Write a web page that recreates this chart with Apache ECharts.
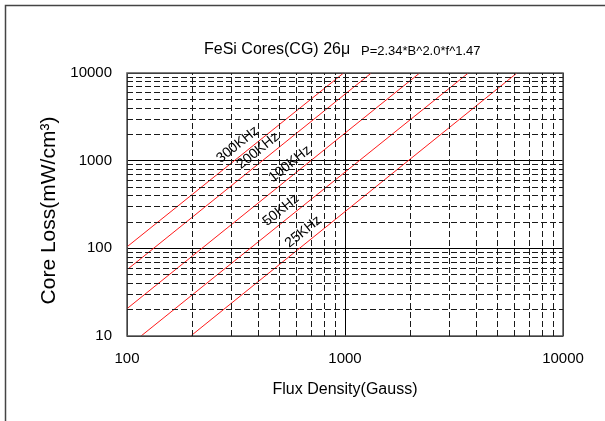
<!DOCTYPE html>
<html>
<head>
<meta charset="utf-8">
<script src="https://cdn.jsdelivr.net/npm/echarts@6/dist/echarts.min.js"></script>
<style>
  html, body { margin: 0; padding: 0; background: #fff; }
  #chart { width: 605px; height: 421px; }
</style>
</head>
<body>
<div id="chart"></div>
<script>
// Core-loss curves: each frequency is a straight line on log-log axes,
// given by its two end points (Flux Density in Gauss, Core Loss in mW/cm³).
const freqNames = ['300KHz', '200KHz', '100KHz', '50KHz', '25KHz'];
const bStart = [100, 100, 100, 116, 196];
const pStart = [104, 57, 20.5, 10, 10];
const bEnd = [985, 1320, 2200, 3680, 6150];
const pEnd = [10000, 10000, 10000, 10000, 10000];
// Flux density where each curve's label sits
const labelB = [345, 428, 600, 545, 690];

// Tick labels and dashed minor grid values
const xTicks = [100, 1000, 10000];
const yTicks = [10, 100, 1000, 10000];
const xMinor = [200, 300, 400, 500, 600, 700, 800, 900, 2000, 3000, 4000, 5000, 6000, 7000, 8000, 9000];
const yMinor = [20, 30, 40, 50, 60, 70, 80, 90, 200, 300, 400, 500, 600, 700, 800, 900,
                2000, 3000, 4000, 5000, 6000, 7000, 8000, 9000];

const FONT = '"Liberation Sans", Arial, sans-serif';
const chart = echarts.init(document.getElementById('chart'), null, { renderer: 'canvas' });

const minorLines = []
  .concat(xMinor.map(v => ({ xAxis: v })))
  .concat(yMinor.map(v => ({ yAxis: v })));

const series = [{
  type: 'line',
  name: 'grid',
  data: [],
  silent: true,
  z: 1,
  markLine: {
    silent: true,
    symbol: ['none', 'none'],
    label: { show: false },
    animation: false,
    lineStyle: { color: '#1a1a1a', width: 1, type: [6, 3] },
    data: minorLines
  }
}];

freqNames.forEach((name, i) => {
  series.push({
    type: 'line',
    name: name,
    data: [[bStart[i], pStart[i]], [bEnd[i], pEnd[i]]],
    showSymbol: false,
    symbol: 'none',
    z: 3,
    lineStyle: { color: '#ff1a1a', width: 1 },
    animation: false
  });
});

chart.setOption({
  animation: false,
  backgroundColor: '#fff',
  title: [{
    text: 'FeSi Cores(CG) 26μ',
    left: 199,
    top: 37,
    textStyle: { fontFamily: FONT, fontSize: 16, fontWeight: 'normal', color: '#000' }
  }, {
    text: 'P=2.34*B^2.0*f^1.47',
    left: 356,
    top: 40,
    textStyle: { fontFamily: FONT, fontSize: 13, fontWeight: 'normal', color: '#000' }
  }],
  grid: {
    left: 127, top: 73, width: 436, height: 263,
    show: true, borderColor: '#555', borderWidth: 1.5, backgroundColor: 'transparent',
    z: 4
  },
  xAxis: {
    type: 'log', logBase: 10, min: 100, max: 10000,
    name: 'Flux Density(Gauss)',
    nameLocation: 'middle', nameGap: 46,
    nameTextStyle: { fontFamily: FONT, fontSize: 16, color: '#000' },
    axisLine: { show: false },
    axisTick: { show: false },
    axisLabel: {
      fontFamily: FONT, fontSize: 15, color: '#000', margin: 15,
      formatter: v => (xTicks.indexOf(Math.round(v)) >= 0 ? String(Math.round(v)) : '')
    },
    splitLine: { show: true, lineStyle: { color: '#000', width: 1, type: 'solid' } }
  },
  yAxis: {
    type: 'log', logBase: 10, min: 10, max: 10000,
    name: 'Core Loss(mW/cm³)',
    nameLocation: 'middle', nameGap: 62, nameRotate: 90,
    nameTextStyle: { fontFamily: FONT, fontSize: 21, color: '#000', padding: [0, 12, 0, 0] },
    axisLine: { show: false },
    axisTick: { show: false },
    axisLabel: {
      fontFamily: FONT, fontSize: 15, color: '#000', margin: 15,
      padding: [7, 0, 0, 0],
      formatter: v => (yTicks.indexOf(Math.round(v)) >= 0 ? String(Math.round(v)) : '')
    },
    splitLine: { show: true, lineStyle: { color: '#000', width: 1, type: 'solid' } }
  },
  series: series
});

// Frequency labels, laid along each curve just above it
const overlay = [];
freqNames.forEach((name, i) => {
  const p0 = chart.convertToPixel({ gridIndex: 0 }, [bStart[i], pStart[i]]);
  const p1 = chart.convertToPixel({ gridIndex: 0 }, [bEnd[i], pEnd[i]]);
  const px = chart.convertToPixel({ xAxisIndex: 0 }, labelB[i]);
  const t = (px - p0[0]) / (p1[0] - p0[0]);
  const py = p0[1] + t * (p1[1] - p0[1]);
  const ang = Math.atan2(p0[1] - p1[1], p1[0] - p0[0]);
  const off = 3.5;
  overlay.push({
    type: 'text',
    x: px - off * Math.sin(ang),
    y: py - off * Math.cos(ang),
    rotation: ang,
    z: 10,
    style: {
      text: name,
      fontFamily: FONT,
      fontSize: 14,
      fill: '#000',
      align: 'center',
      verticalAlign: 'bottom'
    }
  });
});

// Outer frame (only its top and left edges fall inside the page)
overlay.push({
  type: 'rect',
  shape: { x: 5.5, y: 5.5, width: 1200, height: 1000 },
  style: { fill: 'none', stroke: '#444', lineWidth: 1.5 },
  z: 0
});

chart.setOption({ graphic: overlay });
</script>
</body>
</html>
